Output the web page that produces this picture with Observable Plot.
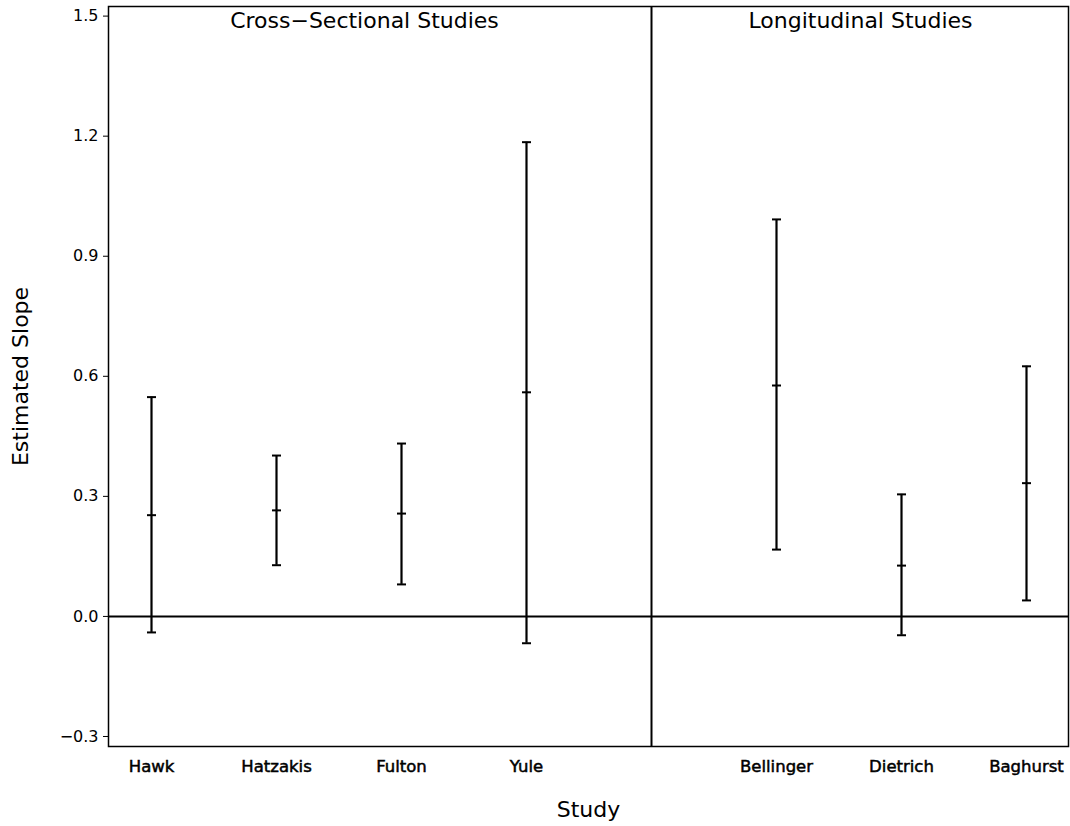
<!DOCTYPE html>
<html>
<head>
<meta charset="utf-8">
<script src="https://cdn.jsdelivr.net/npm/d3@7"></script>
<script src="https://cdn.jsdelivr.net/npm/@observablehq/plot@0.6"></script>
<style>
  html, body { margin: 0; padding: 0; background: #fff; }
  #chart svg { display: block; }
</style>
</head>
<body>
<div id="chart"></div>
<script>
// Data
const crossStudies = ["Hawk", "Hatzakis", "Fulton", "Yule"];
const crossLower   = [-0.040, 0.128, 0.080, -0.067];
const crossMid     = [0.253, 0.265, 0.257, 0.560];
const crossUpper   = [0.548, 0.402, 0.432, 1.185];

const longStudies = ["Bellinger", "Dietrich", "Baghurst"];
const longLower   = [0.167, -0.047, 0.040];
const longMid     = [0.577, 0.127, 0.333];
const longUpper   = [0.992, 0.305, 0.625];

const groupTitles = ["Cross\u2212Sectional Studies", "Longitudinal Studies"];
const yTicks = [-0.3, 0.0, 0.3, 0.6, 0.9, 1.2, 1.5];
const divider = ""; // blank slot separating the two groups

const rows = [
  ...crossStudies.map((s, i) => ({study: s, lower: crossLower[i], mid: crossMid[i], upper: crossUpper[i]})),
  ...longStudies.map((s, i) => ({study: s, lower: longLower[i], mid: longMid[i], upper: longUpper[i]}))
];
const domainX = [...crossStudies, divider, ...longStudies];

const hbar = {
  draw(context, size) {
    const w = Math.sqrt(size / Math.PI);
    context.moveTo(-w, 0);
    context.lineTo(w, 0);
  }
};

const font = "DejaVu Sans";

const chart = Plot.plot({
  width: 1070,
  height: 826,
  marginTop: 6,
  marginLeft: 108,
  marginRight: 2,
  marginBottom: 80,
  style: {fontFamily: font, fontSize: "16px", color: "#000", background: "#fff"},
  x: {type: "point", domain: domainX, padding: 0.34, align: 0.5},
  y: {domain: [-0.325, 1.524]},
  marks: [
    Plot.frame({stroke: "#000", strokeWidth: 1.5}),
    Plot.ruleY([0], {stroke: "#000", strokeWidth: 2}),
    Plot.ruleX([divider], {stroke: "#000", strokeWidth: 2}),
    Plot.ruleX(rows, {x: "study", y1: "lower", y2: "upper", stroke: "#000", strokeWidth: 2.2}),
    Plot.dot(rows, {x: "study", y: "lower", symbol: hbar, r: 4.5, stroke: "#000", strokeWidth: 2, fill: "none"}),
    Plot.dot(rows, {x: "study", y: "upper", symbol: hbar, r: 4.5, stroke: "#000", strokeWidth: 2, fill: "none"}),
    Plot.dot(rows, {x: "study", y: "mid", symbol: hbar, r: 4.5, stroke: "#000", strokeWidth: 2, fill: "none"}),
    Plot.text([groupTitles[0]], {frameAnchor: "top-left", dx: 256, dy: 6, textAnchor: "middle", lineAnchor: "top", fontSize: 22, fill: "#000"}),
    Plot.text([groupTitles[1]], {frameAnchor: "top-right", dx: -208, dy: 6, textAnchor: "middle", lineAnchor: "top", fontSize: 22, fill: "#000"}),
    Plot.axisY({ticks: yTicks, tickFormat: d3.format(".1f"), tickSize: 5, tickPadding: 5, fontSize: 16,
      label: "Estimated Slope", labelAnchor: "center", labelArrow: "none", labelOffset: 96}),
    Plot.axisX({tickSize: 0, tickPadding: 14, fontSize: 16.5,
      tickFormat: d => d, label: null}),
    Plot.axisX({ticks: [], tickSize: 0, label: "Study", labelAnchor: "center", labelArrow: "none", labelOffset: 70})
  ]
});

// label fonts and slightly heavier x tick labels
chart.querySelectorAll("[aria-label='y-axis label'] text, [aria-label='x-axis label'] text").forEach(t => {
  t.setAttribute("font-size", "22");
});
chart.querySelectorAll("[aria-label='x-axis tick label'] text").forEach(t => {
  t.setAttribute("stroke", "#000");
  t.setAttribute("stroke-width", "0.5");
});

document.getElementById("chart").appendChild(chart);
</script>
</body>
</html>
